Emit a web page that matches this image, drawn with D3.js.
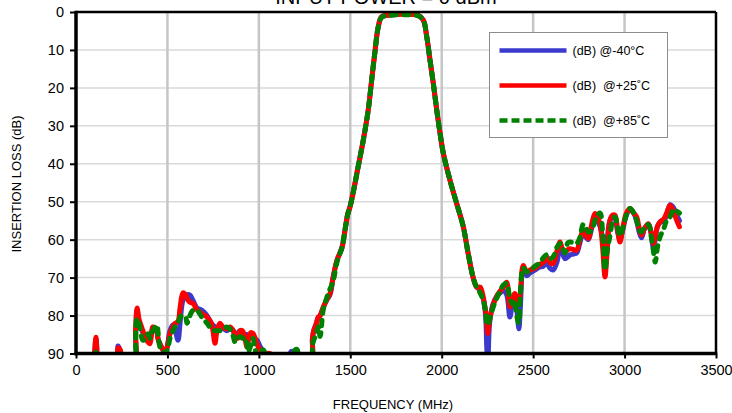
<!DOCTYPE html>
<html>
<head>
<meta charset="utf-8">
<script src="https://cdn.jsdelivr.net/npm/d3@7"></script>
<style>
  body { margin: 0; background: #fff; }
  svg { font-family: "Liberation Sans", Arial, sans-serif; }
</style>
</head>
<body>
<div id="wrapper"></div>
<script>
// frequency grid (MHz) and insertion loss (dB) per temperature
const freq = [100, 104, 109, 114, 120, 218, 230, 242, 255, 318, 326, 334, 345, 366, 380, 394, 405, 421, 443, 448,
  459, 475, 487, 500, 514, 530, 541, 558, 569, 585, 600, 607, 623, 640, 662, 689, 716, 740, 760, 771,
  787, 804, 825, 842, 860, 870, 885, 897, 910, 924, 935, 941, 955, 968, 980, 990, 1005, 1023, 1040, 1061,
  1080, 1100, 1160, 1175, 1185, 1200, 1210, 1222, 1285, 1293, 1300, 1315, 1324, 1335, 1352, 1370, 1389, 1406, 1427, 1455,
  1471, 1485, 1498, 1515, 1543, 1571, 1598, 1617, 1636, 1653, 1672, 1717, 1800, 1870, 1899, 1918, 1936, 1954, 1973, 1991,
  2009, 2045, 2082, 2118, 2145, 2172, 2191, 2210, 2227, 2240, 2246, 2252, 2262, 2280, 2300, 2320, 2336, 2355, 2373, 2390,
  2400, 2410, 2422, 2430, 2446, 2465, 2483, 2510, 2538, 2555, 2574, 2592, 2610, 2630, 2647, 2660, 2674, 2690, 2702, 2720,
  2738, 2755, 2774, 2790, 2802, 2820, 2838, 2852, 2866, 2880, 2893, 2905, 2920, 2935, 2948, 2962, 2975, 2990, 3010, 3030,
  3050, 3066, 3080, 3093, 3110, 3130, 3145, 3157, 3168, 3180, 3194, 3215, 3230, 3249, 3267, 3285, 3300];

const lossM40 = [93, 89, 86, 89, 93, 93, 88, 89.5, 93, 93, 85, 78.5, 82, 84.5, 86, 86.5, 86, 83.5, 84.5, 86,
  87.5, 89, 90.5, 88, 84, 82.5, 83.5, 86.5, 82, 76, 75, 74.5, 74.6, 76, 78, 78.6, 80, 82, 83, 83.5,
  83.5, 83.4, 84, 83.5, 84, 85, 84.5, 84, 85, 85, 85, 85.5, 85.5, 86, 86.5, 86.5, 88, 89.5, 91, 91,
  92, 93, 93, 89.5, 89.5, 91, 92, 93, 93, 86, 84, 82, 80.5, 80, 78, 76, 74.5, 70, 65.5, 62,
  57.5, 53.5, 51.4, 47.8, 40.8, 33.8, 25.9, 17.9, 10, 3.9, 1.2, 0.7, 0.5, 0.8, 2.1, 6.5, 12.7, 18.8, 25.9, 32,
  37.3, 44.3, 50.5, 56.6, 63.7, 70, 72.5, 73.2, 75.5, 80, 88, 93, 82, 77, 75, 74, 73.5, 74.5, 80.4, 76,
  75.5, 78, 83.5, 78, 67.5, 69.5, 68.8, 68, 67.2, 67, 66, 67.5, 68, 66, 62, 63.5, 65, 64.5, 64, 63.8,
  63.5, 61, 58, 59.5, 60, 57, 53.5, 55, 56.5, 60, 67, 60, 55, 54, 54.5, 58, 60, 57.5, 53.5, 52,
  53, 55, 58, 59.5, 57, 56, 58.5, 62, 60, 56.5, 55.5, 55, 53.5, 50.8, 51.5, 53.5, 55];

const loss25 = [93, 88, 85.7, 88.5, 93, 93, 88.5, 89, 93, 93, 84, 78, 81, 84, 86, 87, 87.4, 83, 84, 86,
  87.5, 89, 89.6, 88, 84.8, 83, 82.1, 81.5, 78, 74, 74.5, 75.5, 76.5, 76.8, 78.5, 79.5, 80.4, 82, 87.3, 84,
  82, 83, 83.5, 83, 84, 85.7, 86, 84, 84, 86, 88.3, 87, 84.5, 84.7, 86, 87.5, 89, 90, 90, 90,
  91, 93, 93, 91, 90, 91, 92, 93, 93, 86, 84, 82, 80.5, 80, 77.8, 76, 74.2, 70, 65.5, 62,
  57.5, 53.5, 51.4, 47.8, 40.8, 33.8, 25.9, 17.9, 10, 3.9, 1.3, 0.8, 0.6, 0.9, 2.1, 6.5, 12.7, 18.8, 25.9, 32,
  37.3, 44.3, 50.5, 56.6, 63.7, 70, 72.5, 72.5, 75.1, 79, 81.3, 84.7, 81, 77.5, 75, 73.5, 72.5, 71.2, 77.7, 75,
  74.2, 76, 76.8, 74, 66.8, 68.5, 68, 67.5, 66.5, 66, 64.6, 66, 66.3, 63, 60.6, 62.5, 63.3, 62.6, 62.4, 62.6,
  62.8, 60, 57.5, 59, 59.7, 56, 53.1, 54, 55.8, 62, 69.8, 63, 54.9, 53.5, 53.6, 57.5, 60.6, 57, 53, 51.8,
  53, 54, 57, 58.8, 57, 55.8, 58, 61, 59, 56.5, 55.3, 54.5, 53, 50.9, 52.5, 54.9, 56.6];

const loss85 = [93, 91, 89.6, 91, 93, 93, 89.5, 90, 93, 93, 86, 80.8, 82, 86.5, 86, 84.8, 86, 84, 82.5, 84,
  88.3, 89.5, 90, 89, 86, 84, 83, 82, 80.4, 80, 80.5, 82, 80, 78.6, 78.6, 80.5, 82, 83.5, 84, 84,
  84, 83.5, 83, 83.5, 85.5, 87, 86, 85.5, 86, 85.7, 87.5, 89.6, 88, 86, 89, 90.5, 90, 89, 90.5, 92,
  92, 93, 93, 92, 90.5, 89, 89, 92, 93, 88, 86.5, 85, 83, 85.5, 78.5, 75.5, 73, 71, 66, 62,
  57.5, 53.5, 51.4, 47.8, 40.8, 33.8, 25.9, 17.9, 10, 3.9, 1.4, 0.9, 0.7, 1, 2.1, 6.5, 12.7, 18.8, 25.9, 32,
  37.3, 44.3, 50.5, 56.6, 63.7, 70, 72.5, 74, 76, 79, 82, 82.5, 81, 78, 75.5, 73.5, 72, 71.5, 75.5, 77,
  76, 80, 82, 74, 67.5, 68.5, 68, 67, 66, 64.8, 64, 65, 64.5, 62, 61, 62, 63.5, 60.8, 60.6, 60.8,
  61, 59.5, 56, 57, 58, 57.5, 55, 53.5, 53, 58, 68, 63, 59, 55, 54, 56.5, 59, 57, 53.5, 51.8,
  53, 55, 57.5, 58, 56.5, 56, 59, 62.8, 65.9, 62, 59.3, 57, 55, 54, 52, 52.5, 53];

const seriesNames = ["(dB) @-40°C", "(dB)  @+25˚C", "(dB)  @+85˚C"];
const xTicks = [0, 500, 1000, 1500, 2000, 2500, 3000, 3500];
const yTicks = [0, 10, 20, 30, 40, 50, 60, 70, 80, 90];

const width = 732;
const height = 413;
const margin = { top: 12, right: 16, bottom: 59.5, left: 76 };
const boundedWidth = width - margin.left - margin.right;
const boundedHeight = height - margin.top - margin.bottom;

const series = [
  { name: seriesNames[0], values: lossM40, color: "#3a3acc", dash: null },
  { name: seriesNames[1], values: loss25, color: "#ff0000", dash: null },
  { name: seriesNames[2], values: loss85, color: "#008000", dash: "5.5,7" },
];

const svg = d3
  .select("#wrapper")
  .append("svg")
  .attr("width", width)
  .attr("height", height);

const bounds = svg
  .append("g")
  .attr("transform", `translate(${margin.left},${margin.top})`);

const xScale = d3.scaleLinear().domain([0, 3500]).range([0, boundedWidth]);
const yScale = d3.scaleLinear().domain([0, 90]).range([0, boundedHeight]);

// gridlines
bounds
  .selectAll(".hgrid")
  .data(yTicks.slice(1, -1))
  .join("line")
  .attr("x1", 0)
  .attr("x2", boundedWidth)
  .attr("y1", (d) => yScale(d))
  .attr("y2", (d) => yScale(d))
  .attr("stroke", "#d9d9d9")
  .attr("stroke-width", 1.5);

bounds
  .selectAll(".vgrid")
  .data(xTicks.slice(1, -1))
  .join("line")
  .attr("x1", (d) => xScale(d))
  .attr("x2", (d) => xScale(d))
  .attr("y1", 0)
  .attr("y2", boundedHeight)
  .attr("stroke", "#c6c6c6")
  .attr("stroke-width", 2.5);

svg
  .append("defs")
  .append("clipPath")
  .attr("id", "plot-clip")
  .append("rect")
  .attr("width", boundedWidth)
  .attr("height", boundedHeight);

const lineGenerator = (values) =>
  d3
    .line()
    .x((d, i) => xScale(freq[i]))
    .y((d) => yScale(d))
    .curve(d3.curveCatmullRom.alpha(0.5))(values);

const linesGroup = bounds.append("g").attr("clip-path", "url(#plot-clip)");

linesGroup
  .selectAll("path")
  .data(series)
  .join("path")
  .attr("d", (d) => lineGenerator(d.values))
  .attr("fill", "none")
  .attr("stroke", (d) => d.color)
  .attr("stroke-width", 5)
  .attr("stroke-linejoin", "round")
  .attr("stroke-linecap", "round")
  .attr("stroke-dasharray", (d) => d.dash);

// axes
const xAxisGenerator = d3
  .axisBottom(xScale)
  .tickValues(xTicks)
  .tickFormat(d3.format("d"))
  .tickSize(5)
  .tickPadding(6);

const xAxis = bounds
  .append("g")
  .attr("transform", `translate(0,${boundedHeight})`)
  .call(xAxisGenerator);
xAxis.select(".domain").remove();
xAxis.selectAll("line").attr("stroke", "#000").attr("stroke-width", 2);
xAxis
  .selectAll("text")
  .style("font-size", "14.5px")
  .style("font-family", "Liberation Sans, Arial, sans-serif")
  .attr("fill", "#000");

const yAxisGenerator = d3
  .axisLeft(yScale)
  .tickValues(yTicks)
  .tickFormat(d3.format("d"))
  .tickSize(6)
  .tickPadding(6);

const yAxis = bounds.append("g").call(yAxisGenerator);
yAxis.select(".domain").remove();
yAxis.selectAll("line").attr("stroke", "#000").attr("stroke-width", 2);
yAxis
  .selectAll("text")
  .style("font-size", "14.5px")
  .style("font-family", "Liberation Sans, Arial, sans-serif")
  .attr("fill", "#000");

// frame
bounds
  .append("line")
  .attr("x1", 0)
  .attr("x2", boundedWidth)
  .attr("y1", 0)
  .attr("y2", 0)
  .attr("stroke", "#000")
  .attr("stroke-width", 2.5);
bounds
  .append("line")
  .attr("x1", boundedWidth)
  .attr("x2", boundedWidth)
  .attr("y1", 0)
  .attr("y2", boundedHeight)
  .attr("stroke", "#000")
  .attr("stroke-width", 2.5);
bounds
  .append("line")
  .attr("x1", -1.5)
  .attr("x2", boundedWidth + 1.25)
  .attr("y1", boundedHeight)
  .attr("y2", boundedHeight)
  .attr("stroke", "#000")
  .attr("stroke-width", 3.5);
bounds
  .append("line")
  .attr("x1", 0)
  .attr("x2", 0)
  .attr("y1", -1.25)
  .attr("y2", boundedHeight + 1.75)
  .attr("stroke", "#000")
  .attr("stroke-width", 3.5);

// legend
const legend = svg.append("g").attr("transform", "translate(489.5,32.5)");
legend
  .append("rect")
  .attr("width", 178)
  .attr("height", 105)
  .attr("fill", "#fff")
  .attr("stroke", "#8c8c8c")
  .attr("stroke-width", 1);

const legendItems = legend
  .selectAll(".item")
  .data(series)
  .join("g")
  .attr("transform", (d, i) => `translate(0,${18 + i * 35})`);

legendItems
  .append("line")
  .attr("x1", 10)
  .attr("x2", 77)
  .attr("stroke", (d) => d.color)
  .attr("stroke-width", 4.5)
  .attr("stroke-dasharray", (d) => (d.dash ? "8,4" : null));

legendItems
  .append("text")
  .attr("x", 83)
  .attr("dy", "0.35em")
  .style("font-size", "12.5px")
  .style("white-space", "pre")
  .attr("fill", "#000")
  .text((d) => d.name);

// titles
svg
  .append("text")
  .attr("x", 386)
  .attr("y", 4)
  .style("font-size", "20px")
  .style("text-anchor", "middle")
  .text("INPUT POWER = 0 dBm");

svg
  .append("text")
  .attr("x", 393)
  .attr("y", 409)
  .style("font-size", "13px")
  .style("text-anchor", "middle")
  .text("FREQUENCY (MHz)");

svg
  .append("text")
  .attr("transform", "translate(21,184) rotate(-90)")
  .style("font-size", "13px")
  .style("text-anchor", "middle")
  .text("INSERTION LOSS (dB)");
</script>
</body>
</html>
